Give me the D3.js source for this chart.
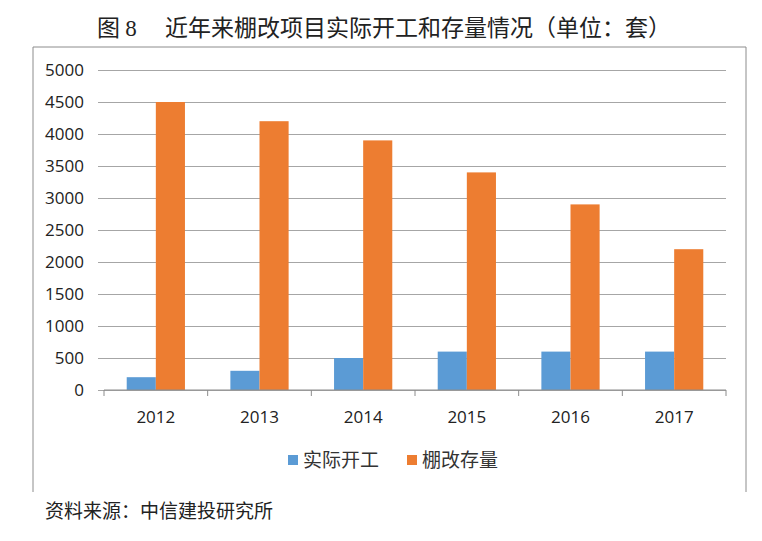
<!DOCTYPE html>
<html>
<head>
<meta charset="utf-8">
<script src="https://cdn.jsdelivr.net/npm/d3@7"></script>
<style>
  body { margin: 0; background: #fff; }
  svg { display: block; font-family: "Noto Sans CJK SC", "Noto Sans", sans-serif; }
</style>
</head>
<body>
<svg></svg>
<script>
// chart data
const years = ['2012', '2013', '2014', '2015', '2016', '2017'];
const started = [200, 300, 500, 600, 600, 600];   // 实际开工
const stock = [4500, 4200, 3900, 3400, 2900, 2200]; // 棚改存量
const seriesNames = ['实际开工', '棚改存量'];
const yTicks = [0, 500, 1000, 1500, 2000, 2500, 3000, 3500, 4000, 4500, 5000];

const colors = ['#5B9BD5', '#ED7D31'];
const size = {w: 762, h: 541};
const plot = {l: 104, r: 726, t: 70, b: 390};

const svg = d3.select('svg')
    .attr('width', size.w)
    .attr('height', size.h);

// outer frame (left, top, right)
svg.append('path')
    .attr('d', 'M33,492 V47 H746 V492')
    .attr('fill', 'none')
    .attr('stroke', '#8c8c8c')
    .attr('stroke-width', 1);

// title
const title = svg.append('text')
    .attr('x', 384)
    .attr('y', 36)
    .attr('text-anchor', 'middle')
    .attr('font-size', 23)
    .attr('fill', '#222');
title.append('tspan').text('图 ');
title.append('tspan')
    .attr('font-family', '"Liberation Serif", serif')
    .text('8');
title.append('tspan').text('\u3000 近年来棚改项目实际开工和存量情况（单位：套）');

// scales
const x = d3.scaleBand()
    .domain(years)
    .range([plot.l, plot.r]);

const inner = d3.scaleBand()
    .domain([0, 1])
    .range([0, x.bandwidth()])
    .paddingOuter(0.78)
    .paddingInner(0);

const y = d3.scaleLinear()
    .domain([0, 5000])
    .range([plot.b, plot.t]);

// grid lines + y labels
const yAxis = d3.axisLeft(y)
    .tickValues(yTicks)
    .tickFormat(d3.format('d'))
    .tickSize(-(plot.r - plot.l) - 6)
    .tickPadding(14);

const gy = svg.append('g')
    .attr('transform', 'translate(' + (plot.l - 6) + ',0)')
    .call(yAxis);
gy.select('.domain').remove();
gy.selectAll('line').attr('stroke', '#a6a6a6');
gy.selectAll('text')
    .attr('font-size', 17)
    .attr('fill', '#222')
    .attr('font-family', '"Open Sans", "Noto Sans", sans-serif');

// bars
const seriesData = [started, stock];
seriesData.forEach(function (vals, si) {
    svg.append('g')
        .selectAll('rect')
        .data(vals)
        .enter()
        .append('rect')
        .attr('x', (d, i) => x(years[i]) + inner(si))
        .attr('y', (d) => y(d))
        .attr('width', inner.bandwidth())
        .attr('height', (d) => y(0) - y(d))
        .attr('fill', colors[si]);
});

// x axis with tick marks on category boundaries
const gx = svg.append('g')
    .attr('transform', 'translate(0,' + plot.b + ')');
gx.append('line')
    .attr('x1', plot.l).attr('x2', plot.r)
    .attr('stroke', '#8c8c8c');
gx.selectAll('line.tick')
    .data(years.concat(['end']))
    .enter()
    .append('line')
    .attr('class', 'tick')
    .attr('x1', (d, i) => plot.l + i * x.step())
    .attr('x2', (d, i) => plot.l + i * x.step())
    .attr('y1', 0).attr('y2', 6)
    .attr('stroke', '#8c8c8c');
gx.selectAll('text')
    .data(years)
    .enter()
    .append('text')
    .attr('x', (d) => x(d) + x.bandwidth() / 2)
    .attr('y', 33)
    .attr('text-anchor', 'middle')
    .attr('font-size', 17)
    .attr('fill', '#222')
    .attr('font-family', '"Open Sans", "Noto Sans", sans-serif')
    .text((d) => d);

// legend
const legend = svg.append('g');
const legendX = [288, 407];
seriesNames.forEach(function (name, i) {
    legend.append('rect')
        .attr('x', legendX[i])
        .attr('y', 455)
        .attr('width', 10)
        .attr('height', 10)
        .attr('fill', colors[i]);
    legend.append('text')
        .attr('x', legendX[i] + 15)
        .attr('y', 467)
        .attr('font-size', 19)
        .attr('fill', '#333')
        .text(name);
});

// source
svg.append('text')
    .attr('x', 45)
    .attr('y', 518)
    .attr('font-size', 19)
    .attr('fill', '#222')
    .text('资料来源：中信建投研究所');
</script>
</body>
</html>
